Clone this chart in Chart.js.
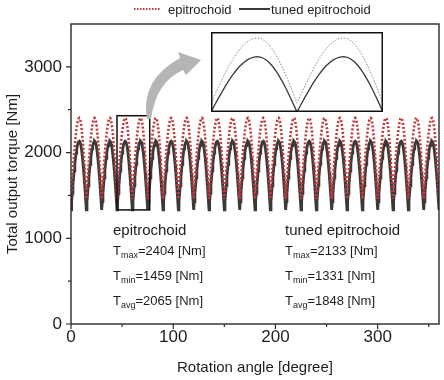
<!DOCTYPE html>
<html><head><meta charset="utf-8">
<script src="https://cdn.jsdelivr.net/npm/chart.js@4.4.0/dist/chart.umd.min.js"></script>
<style>
html,body{margin:0;padding:0;background:#fff}
#wrap{position:relative;width:444px;height:380px}
#main{position:absolute;left:0;top:0}
#inset{position:absolute;left:211px;top:32px}
</style>
</head><body>
<div id="wrap"><canvas id="main" width="444" height="380"></canvas><canvas id="inset" width="172" height="80"></canvas></div>
<script>
// ---- data ----
const seriesNames = ['epitrochoid', 'tuned epitrochoid'];
const periodDeg = 15;          // one torque arch every 15 degrees
const periodCount = 24;        // 360 / 15
// one period of each curve, sampled every 15/24 degree (read from the zoomed inset)
const epiProfile = [1459,1573,1686,1795,1899,1998,2087,2168,2239,2297,2344,2378,
                    2397,2404,2394,2364,2317,2252,2172,2076,1968,1851,1725,1593];
const tunedProfile = [1331,1428,1524,1616,1705,1788,1864,1932,1993,2042,2082,2110,
                      2127,2133,2124,2099,2059,2004,1936,1855,1763,1664,1556,1445];
const xTickLabels = [0, 100, 200, 300];
const xMinorTicks = [50, 150, 250, 350];
const yTickLabels = [0, 1000, 2000, 3000];
const yMinorTicks = [500, 1500, 2500];
const statNames = ['max', 'min', 'avg'];
const epiStats = [2404, 1459, 2065];
const tunedStats = [2133, 1331, 1848];
const zoomWindowX = [45, 75];
const zoomWindowY = [1331, 2490];

// ---- build point tables ----
function buildPoints(profile) {
  const pts = [];
  const n = profile.length;
  for (let p = 0; p < periodCount; p++) {
    for (let k = 0; k < n; k++) {
      pts.push({x: p * periodDeg + k * periodDeg / n, y: profile[k]});
    }
  }
  pts.push({x: periodCount * periodDeg, y: profile[0]});
  return pts;
}
const epiPoints = buildPoints(epiProfile);
const tunedPoints = buildPoints(tunedProfile);

const FONT = '"Liberation Sans", Arial, Helvetica, sans-serif';
const RED = '#c0393b';
const DARK = '#3a3a3a';
const TXT = '#1e1e1e';

const decor = {
  id: 'decor',
  afterDraw(chart) {
    const {ctx, chartArea: a, scales: {x, y}} = chart;
    ctx.save();
    // frame
    ctx.strokeStyle = '#2a2a2a';
    ctx.lineWidth = 1.4;
    ctx.strokeRect(a.left, a.top, a.right - a.left, a.bottom - a.top);
    // tick marks
    ctx.lineWidth = 1.2;
    ctx.beginPath();
    xTickLabels.forEach(v => { const p = x.getPixelForValue(v); ctx.moveTo(p, a.bottom); ctx.lineTo(p, a.bottom + 5); });
    xMinorTicks.forEach(v => { const p = x.getPixelForValue(v); ctx.moveTo(p, a.bottom); ctx.lineTo(p, a.bottom + 3); });
    yTickLabels.forEach(v => { const p = y.getPixelForValue(v); ctx.moveTo(a.left - 5, p); ctx.lineTo(a.left, p); });
    yMinorTicks.forEach(v => { const p = y.getPixelForValue(v); ctx.moveTo(a.left - 3, p); ctx.lineTo(a.left, p); });
    ctx.stroke();
    // zoom window rectangle
    const zx0 = x.getPixelForValue(zoomWindowX[0]), zx1 = x.getPixelForValue(zoomWindowX[1] + 2);
    const zy0 = y.getPixelForValue(zoomWindowY[1] - 60), zy1 = y.getPixelForValue(zoomWindowY[0]);
    ctx.strokeStyle = '#111';
    ctx.lineWidth = 1.5;
    ctx.strokeRect(zx0, zy0, zx1 - zx0, zy1 - zy0);
    // curved arrow
    ctx.fillStyle = '#b5b5b5';
    ctx.beginPath();
    ctx.moveTo(147, 119);
    ctx.quadraticCurveTo(140, 80, 180, 58);
    ctx.lineTo(178, 52);
    ctx.lineTo(201, 60);
    ctx.lineTo(186, 75);
    ctx.lineTo(183, 70);
    ctx.quadraticCurveTo(156, 82, 151, 119);
    ctx.closePath();
    ctx.fill();
    // annotations
    ctx.fillStyle = TXT;
    ctx.textBaseline = 'alphabetic';
    ctx.textAlign = 'left';
    const blocks = [[113, seriesNames[0], epiStats], [285, seriesNames[1], tunedStats]];
    blocks.forEach(([bx, name, stats]) => {
      ctx.font = '15px ' + FONT;
      ctx.fillText(name, bx, 235);
      stats.forEach((v, i) => {
        const by = 255 + i * 25;
        ctx.font = '13px ' + FONT;
        ctx.fillText('T', bx, by);
        let cx = bx + ctx.measureText('T').width;
        ctx.font = '9px ' + FONT;
        ctx.fillText(statNames[i], cx, by + 3);
        cx += ctx.measureText(statNames[i]).width;
        ctx.font = '13px ' + FONT;
        ctx.fillText('=' + v + ' [Nm]', cx, by);
      });
    });
    // legend
    ctx.font = '13px ' + FONT;
    ctx.lineWidth = 2;
    ctx.strokeStyle = RED;
    ctx.setLineDash([1.5, 1.5]);
    ctx.beginPath(); ctx.moveTo(134, 9); ctx.lineTo(161, 9); ctx.stroke();
    ctx.setLineDash([]);
    ctx.fillText(seriesNames[0], 168, 13.5);
    ctx.strokeStyle = DARK;
    ctx.beginPath(); ctx.moveTo(239, 9); ctx.lineTo(270, 9); ctx.stroke();
    ctx.fillText(seriesNames[1], 271, 13.5);
    ctx.restore();
  }
};

new Chart(document.getElementById('main'), {
  type: 'line',
  data: {
    datasets: [
      {label: seriesNames[0], data: epiPoints, borderColor: RED, borderWidth: 2.6,
       borderDash: [2, 2], pointRadius: 0, tension: 0, fill: false},
      {label: seriesNames[1], data: tunedPoints, borderColor: DARK, borderWidth: 2.8,
       pointRadius: 0, tension: 0, fill: false}
    ]
  },
  options: {
    responsive: false, animation: false, events: [],
    layout: {padding: {top: 24, right: 5, left: 0, bottom: 0}},
    plugins: {legend: {display: false}, tooltip: {enabled: false}},
    scales: {
      x: {
        type: 'linear', min: 0, max: 360,
        grid: {display: false, drawTicks: false, tickLength: 0},
        border: {display: false},
        afterFit: s => { s.height = 56; },
        ticks: {stepSize: 50, autoSkip: false, maxRotation: 0, padding: 3, color: TXT,
                font: {family: FONT, size: 17},
                callback: v => xTickLabels.includes(v) ? String(v) : ''},
        title: {display: true, text: 'Rotation angle [degree]', color: TXT,
                font: {family: FONT, size: 15}, padding: {top: 0, bottom: 3}}
      },
      y: {
        min: 0, max: 3500,
        grid: {display: false, drawTicks: false, tickLength: 0},
        border: {display: false},
        afterFit: s => { s.width = 71; },
        ticks: {stepSize: 500, padding: 9, color: TXT, font: {family: FONT, size: 17},
                callback: v => yTickLabels.includes(v) ? String(v) : ''},
        title: {display: true, text: 'Total output torque [Nm]', color: TXT,
                font: {family: FONT, size: 15}, padding: {top: 4, bottom: 0}}
      }
    }
  },
  plugins: [decor]
});

const insetFrame = {
  id: 'insetFrame',
  afterDraw(chart) {
    const {ctx} = chart;
    ctx.save();
    ctx.strokeStyle = '#111';
    ctx.lineWidth = 1.5;
    ctx.strokeRect(0.75, 0.75, chart.width - 1.5, chart.height - 1.5);
    ctx.restore();
  }
};

new Chart(document.getElementById('inset'), {
  type: 'line',
  data: {
    datasets: [
      {label: seriesNames[0], data: epiPoints, borderColor: '#8c8c8c', borderWidth: 1,
       borderDash: [1.5, 1.5], pointRadius: 0, tension: 0, fill: false},
      {label: seriesNames[1], data: tunedPoints, borderColor: DARK, borderWidth: 1.3,
       pointRadius: 0, tension: 0, fill: false}
    ]
  },
  options: {
    responsive: false, animation: false, events: [],
    layout: {padding: 0},
    plugins: {legend: {display: false}, tooltip: {enabled: false}},
    scales: {
      x: {type: 'linear', min: zoomWindowX[0], max: zoomWindowX[1], display: false},
      y: {min: zoomWindowY[0], max: zoomWindowY[1], display: false}
    }
  },
  plugins: [insetFrame]
});
</script>
</body></html>
